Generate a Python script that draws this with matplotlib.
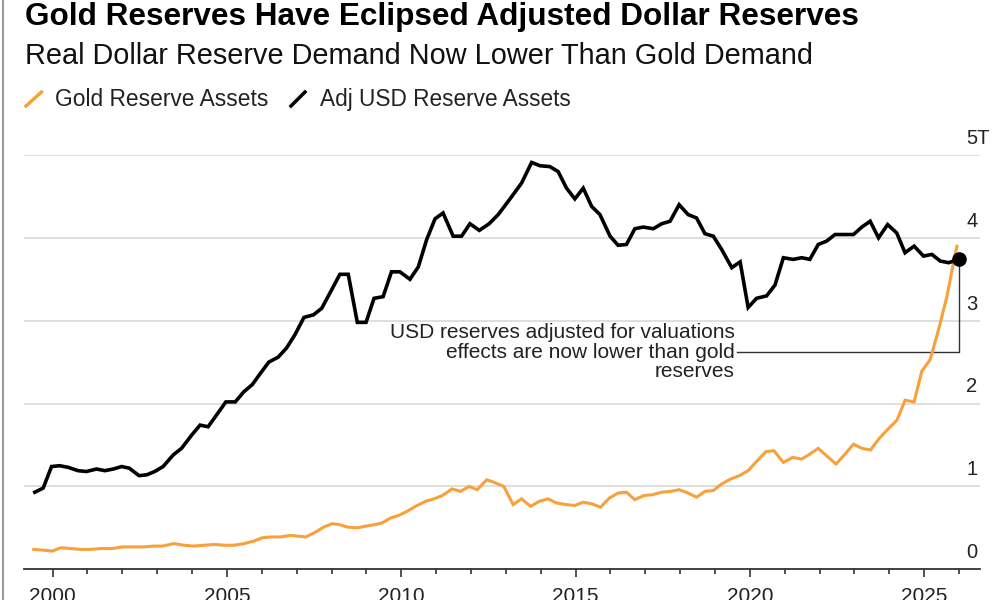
import matplotlib.pyplot as plt
import matplotlib.transforms as mtransforms
from matplotlib.lines import Line2D

plt.rcParams['font.family'] = ['Liberation Sans', 'DejaVu Sans']

# values, trillions of USD
usd_years = [1999.49, 1999.73, 1999.97, 2000.20, 2000.45, 2000.73, 2000.97, 2001.26, 2001.50, 2001.74,
             2001.98, 2002.20, 2002.48, 2002.70, 2002.93, 2003.17, 2003.46, 2003.70, 2003.99, 2004.23,
             2004.46, 2004.70, 2004.97, 2005.24, 2005.48, 2005.73, 2005.97, 2006.20, 2006.47, 2006.71,
             2006.95, 2007.21, 2007.48, 2007.72, 2007.95, 2008.24, 2008.48, 2008.74, 2008.99, 2009.22,
             2009.48, 2009.72, 2009.96, 2010.25, 2010.49, 2010.73, 2010.97, 2011.20, 2011.49, 2011.73,
             2011.97, 2012.24, 2012.52, 2012.78, 2013.12, 2013.45, 2013.74, 2013.98, 2014.26, 2014.50,
             2014.74, 2014.98, 2015.22, 2015.46, 2015.70, 2015.99, 2016.22, 2016.46, 2016.70, 2016.94,
             2017.23, 2017.47, 2017.71, 2017.97, 2018.23, 2018.47, 2018.71, 2018.95, 2019.19, 2019.48,
             2019.72, 2019.95, 2020.19, 2020.48, 2020.72, 2020.96, 2021.24, 2021.49, 2021.72, 2021.96,
             2022.20, 2022.44, 2022.73, 2022.97, 2023.21, 2023.45, 2023.69, 2023.95, 2024.21, 2024.45,
             2024.71, 2024.98, 2025.22, 2025.46, 2025.70, 2025.99]
usd_vals = [0.93, 0.98, 1.24, 1.25, 1.23, 1.19, 1.18, 1.21, 1.19, 1.21,
            1.24, 1.22, 1.13, 1.14, 1.18, 1.24, 1.38, 1.46, 1.62, 1.74,
            1.72, 1.86, 2.02, 2.02, 2.14, 2.23, 2.37, 2.50, 2.56, 2.67,
            2.83, 3.04, 3.07, 3.15, 3.33, 3.56, 3.56, 2.98, 2.98, 3.27,
            3.29, 3.59, 3.59, 3.50, 3.65, 3.98, 4.23, 4.30, 4.02, 4.02,
            4.17, 4.09, 4.17, 4.28, 4.47, 4.66, 4.91, 4.87, 4.86, 4.80,
            4.60, 4.47, 4.60, 4.38, 4.28, 4.02, 3.91, 3.92, 4.11, 4.13,
            4.11, 4.17, 4.20, 4.40, 4.28, 4.24, 4.05, 4.02, 3.86, 3.64,
            3.71, 3.16, 3.27, 3.30, 3.43, 3.76, 3.74, 3.76, 3.74, 3.92,
            3.96, 4.04, 4.04, 4.04, 4.13, 4.20, 4.00, 4.16, 4.06, 3.82,
            3.90, 3.78, 3.80, 3.72, 3.70, 3.74]

gold_years = [1999.46, 1999.75, 2000.00, 2000.23, 2000.52, 2000.80, 2001.09, 2001.38, 2001.71, 2002.00,
              2002.33, 2002.62, 2002.91, 2003.15, 2003.48, 2003.77, 2004.05, 2004.34, 2004.63, 2004.92,
              2005.20, 2005.49, 2005.77, 2006.01, 2006.25, 2006.54, 2006.83, 2007.02, 2007.26, 2007.55,
              2007.78, 2008.02, 2008.21, 2008.45, 2008.74, 2008.98, 2009.26, 2009.45, 2009.70, 2009.93,
              2010.17, 2010.41, 2010.70, 2010.94, 2011.18, 2011.46, 2011.70, 2011.95, 2012.18, 2012.45,
              2012.66, 2012.94, 2013.21, 2013.45, 2013.71, 2013.96, 2014.21, 2014.45, 2014.74, 2014.98,
              2015.22, 2015.46, 2015.72, 2015.97, 2016.22, 2016.46, 2016.70, 2016.96, 2017.21, 2017.47,
              2017.73, 2017.97, 2018.23, 2018.47, 2018.71, 2018.95, 2019.19, 2019.45, 2019.70, 2019.95,
              2020.21, 2020.46, 2020.69, 2020.96, 2021.23, 2021.49, 2021.72, 2021.96, 2022.20, 2022.47,
              2022.73, 2022.97, 2023.21, 2023.46, 2023.71, 2023.98, 2024.22, 2024.45, 2024.71, 2024.93,
              2025.17, 2025.41, 2025.65, 2025.84, 2025.94]
gold_vals = [0.24, 0.23, 0.22, 0.26, 0.25, 0.24, 0.24, 0.25, 0.25, 0.27,
             0.27, 0.27, 0.28, 0.28, 0.31, 0.29, 0.28, 0.29, 0.30, 0.29,
             0.29, 0.31, 0.34, 0.38, 0.39, 0.39, 0.41, 0.40, 0.39, 0.45,
             0.51, 0.55, 0.54, 0.51, 0.50, 0.52, 0.54, 0.56, 0.62, 0.65,
             0.70, 0.76, 0.82, 0.85, 0.89, 0.97, 0.94, 1.00, 0.96, 1.08,
             1.05, 1.00, 0.78, 0.85, 0.76, 0.82, 0.85, 0.80, 0.78, 0.77,
             0.81, 0.79, 0.75, 0.86, 0.92, 0.93, 0.84, 0.89, 0.90, 0.93,
             0.94, 0.96, 0.92, 0.87, 0.94, 0.95, 1.03, 1.09, 1.13, 1.19,
             1.31, 1.42, 1.43, 1.29, 1.35, 1.33, 1.39, 1.46, 1.37, 1.27,
             1.39, 1.51, 1.46, 1.44, 1.58, 1.70, 1.80, 2.04, 2.02, 2.39,
             2.53, 2.89, 3.29, 3.70, 3.90]

y_ticks = [0, 1, 2, 3, 4, 5]
y_labels = ['0', '1', '2', '3', '4', '5T']
x_major = [2000, 2005, 2010, 2015, 2020, 2025]
x_minor = list(range(2000, 2027))

gold_color = '#F8A13A'
usd_color = '#000000'

fig = plt.figure(figsize=(10, 6), dpi=100)
ax = fig.add_axes([0.024, 0.0512, 0.956, 0.6905])

ax.plot(gold_years, gold_vals, color=gold_color, lw=2.2, solid_joinstyle='miter', zorder=3)
ax.plot(usd_years, usd_vals, color=usd_color, lw=2.6, solid_joinstyle='miter', zorder=4)
ax.plot(usd_years[-1], usd_vals[-1], 'o', color='black', ms=9.5, zorder=5)

ax.set_xlim(1999.18, 2026.6)
ax.set_ylim(0, 5)

for v in y_ticks[1:]:
    ax.axhline(v, color='#d9d9d9', lw=1.2, zorder=1)

for s in ['top', 'right', 'left']:
    ax.spines[s].set_visible(False)
ax.spines['bottom'].set_color('#333333')
ax.spines['bottom'].set_linewidth(1.3)

ax.set_yticks([])
lab_tr = mtransforms.offset_copy(ax.get_yaxis_transform(), fig=fig, x=0, y=8, units='points')
for v, lab in zip(y_ticks, y_labels):
    ax.text(0.9854, v, lab, transform=lab_tr, ha='left', va='baseline', fontsize=14.5, color='#222222')

ax.set_xticks(x_major)
ax.set_xticklabels([str(y) for y in x_major])
ax.set_xticks(x_minor, minor=True)
ax.tick_params(axis='x', which='major', length=6, width=1.2, color='#333333', pad=7,
               labelsize=15, labelcolor='#222222')
ax.tick_params(axis='x', which='minor', length=3.8, width=1.2, color='#333333')

# annotation with elbow connector to the last USD point
ann_x, ann_y = 2019.57, 2.62
ax.text(ann_x, ann_y, 'USD reserves adjusted for valuations\neffects are now lower than gold\nreserves',
        ha='right', va='center', fontsize=15, color='#222222', linespacing=1.05, zorder=6)
ax.plot([ann_x + 0.05, usd_years[-1], usd_years[-1]], [ann_y, ann_y, usd_vals[-1]],
        color='#333333', lw=1.0, zorder=2)

# titles and legend
fig.text(0.025, 1 - 25 / 600, 'Gold Reserves Have Eclipsed Adjusted Dollar Reserves',
         fontsize=22.7, fontweight='bold', va='baseline', ha='left')
fig.text(0.025, 1 - 64 / 600, 'Real Dollar Reserve Demand Now Lower Than Gold Demand',
         fontsize=20.8, va='baseline', ha='left', color='#111111')
fig.add_artist(Line2D([0.026, 0.0415], [1 - 106 / 600, 1 - 92 / 600], color=gold_color, lw=2.5))
fig.text(0.055, 1 - 106 / 600, 'Gold Reserve Assets', fontsize=16.4, va='baseline', ha='left', color='#222222')
fig.add_artist(Line2D([0.291, 0.305], [1 - 106 / 600, 1 - 92 / 600], color='black', lw=2.5))
fig.text(0.320, 1 - 106 / 600, 'Adj USD Reserve Assets', fontsize=16.3, va='baseline', ha='left', color='#222222')

fig.add_artist(Line2D([0.0025, 0.0025], [0, 1], color='#9a9a9a', lw=1.5))

fig.savefig('out.png', dpi=100)
